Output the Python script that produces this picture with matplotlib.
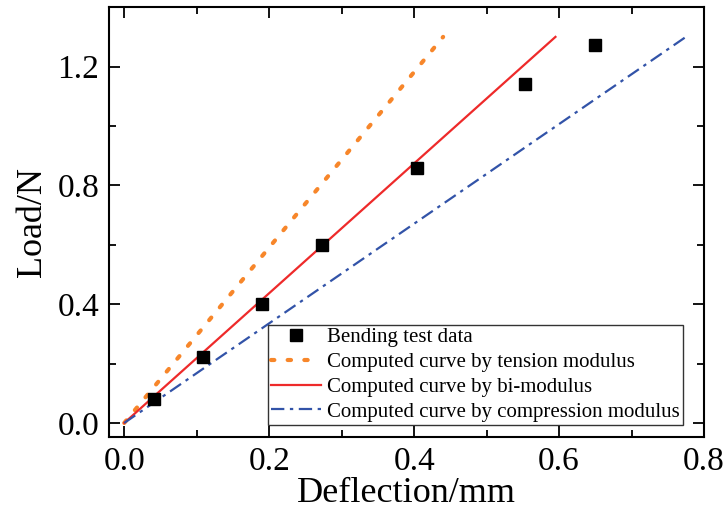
import matplotlib
matplotlib.use('Agg')
import matplotlib.pyplot as plt
from matplotlib.ticker import MultipleLocator

# bending test measurements
test_deflection = [0.041, 0.108, 0.190, 0.273, 0.404, 0.553, 0.650]
test_load = [0.081, 0.222, 0.400, 0.598, 0.860, 1.140, 1.274]

# computed curves (straight lines from origin)
tension_deflection = [0.0, 0.44]
tension_load = [0.0, 1.30]
bimod_deflection = [0.0, 0.595]
bimod_load = [0.0, 1.30]
compr_deflection = [0.0, 0.775]
compr_load = [0.0, 1.30]

plt.rcParams['font.family'] = ['Liberation Serif', 'DejaVu Serif']
plt.rcParams['mathtext.fontset'] = 'stix'

fig = plt.figure(figsize=(7.24, 5.14), dpi=100)
ax = fig.add_axes([0.1506, 0.150, 0.8218, 0.836])

ax.plot(test_deflection, test_load, linestyle='none', marker='s', markersize=8,
        color='black', label='Bending test data', zorder=4)
ax.plot(tension_deflection, tension_load, linestyle=(0, (0.8, 3.2)), linewidth=3,
        color='#F7862A', dash_capstyle='round', label='Computed curve by tension modulus')
ax.plot(bimod_deflection, bimod_load, linestyle='-', linewidth=1.6,
        color='#EE2A2A', label='Computed curve by bi-modulus')
ax.plot(compr_deflection, compr_load, linestyle=(0, (6, 2.5, 1.5, 2.5)), linewidth=1.6,
        color='#3253A8', label='Computed curve by compression modulus')

ax.set_xlim(-0.021, 0.8)
ax.set_ylim(-0.047, 1.4)
ax.xaxis.set_major_locator(MultipleLocator(0.2))
ax.xaxis.set_minor_locator(MultipleLocator(0.1))
ax.yaxis.set_major_locator(MultipleLocator(0.4))
ax.yaxis.set_minor_locator(MultipleLocator(0.2))
ax.tick_params(which='both', direction='in', top=True, right=True, width=1.3,
               labelsize=24, pad=7)
ax.tick_params(which='major', length=8)
ax.tick_params(which='minor', length=5)
for sp in ax.spines.values():
    sp.set_linewidth(1.5)

ax.set_xlabel('Deflection/mm', fontsize=26, labelpad=0)
ax.set_ylabel('Load/N', fontsize=26, labelpad=6)

leg = ax.legend(loc='lower right', bbox_to_anchor=(0.965, 0.028), fontsize=15,
                frameon=True, fancybox=False, edgecolor='black', borderaxespad=0,
                handlelength=2.4, handletextpad=0.3, labelspacing=0.25,
                borderpad=0.15)
leg.get_frame().set_linewidth(1.0)

fig.savefig('out.png', dpi=100)
